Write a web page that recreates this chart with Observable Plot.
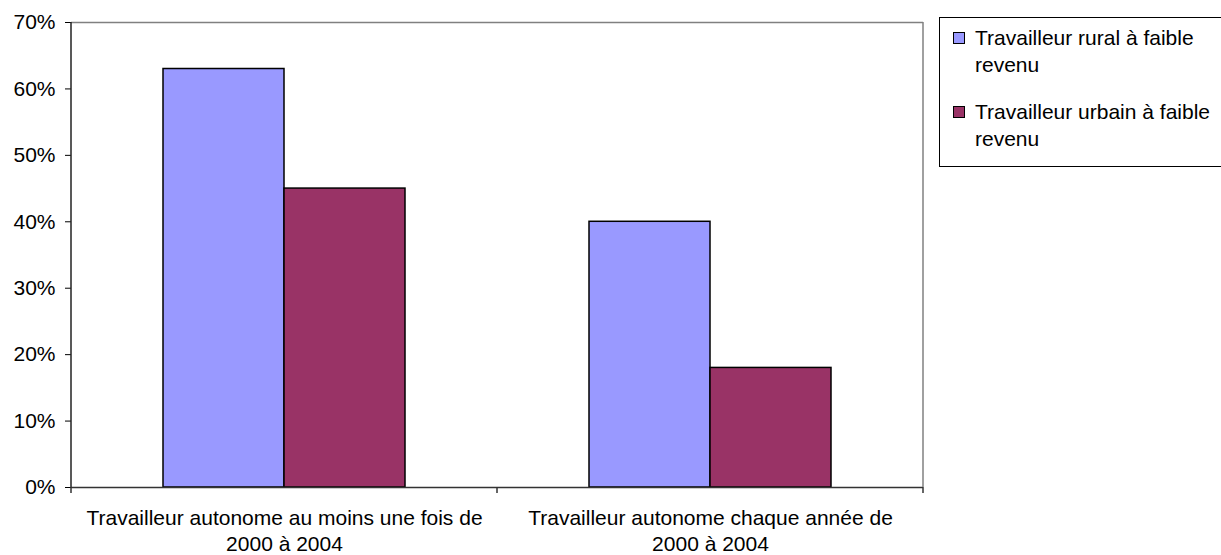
<!DOCTYPE html>
<html><head><meta charset="utf-8">
<script src="https://cdn.jsdelivr.net/npm/d3@7"></script>
<script src="https://cdn.jsdelivr.net/npm/@observablehq/plot@0.6"></script>
<style>
body{margin:0;background:#fff;font-family:"Liberation Sans",Arial,sans-serif}
#wrap{position:relative;width:1221px;height:555px;overflow:hidden}
#legend{position:absolute;left:939px;top:17px;width:300px;height:150px;border:1px solid #000;box-sizing:border-box;background:#fff}
.item{position:absolute;left:35px;font-size:21px;line-height:27px;color:#000;white-space:nowrap}
.sw{position:absolute;left:-22px;top:8px;width:10px;height:10px;border:1px solid #000}
</style></head><body><div id="wrap"><div id="chart"></div><div id="legend"></div></div>
<script>
const categories = ["Travailleur autonome au moins une fois de 2000 à 2004", "Travailleur autonome chaque année de 2000 à 2004"];
const categoryLines = [["Travailleur autonome au moins une fois de", "2000 à 2004"], ["Travailleur autonome chaque année de", "2000 à 2004"]];
const series = ["Travailleur rural à faible revenu", "Travailleur urbain à faible revenu"];
const legendLines = [["Travailleur rural à faible", "revenu"], ["Travailleur urbain à faible", "revenu"]];
const rural = [0.63, 0.40];
const urban = [0.45, 0.18];
const colors = ["#9999FF", "#993366"];
const yTicks = [0, 0.1, 0.2, 0.3, 0.4, 0.5, 0.6, 0.7];

const data = categories.flatMap((c, i) => [
  {category: c, series: series[0], value: rural[i]},
  {category: c, series: series[1], value: urban[i]}
]);

const chart = Plot.plot({
  width: 1221, height: 555,
  marginLeft: 71, marginRight: 298, marginTop: 22, marginBottom: 68,
  style: {fontFamily: "'Liberation Sans', Arial, sans-serif", fontSize: "21px", background: "white", color: "black"},
  fx: {domain: categories, padding: 0},
  x: {domain: series, paddingInner: 0, paddingOuter: 0.75, axis: null},
  y: {domain: [0, 0.7]},
  color: {domain: series, range: colors},
  marks: [
    Plot.ruleY([0.7], {stroke: "#808080", strokeWidth: 1.5}),
    Plot.barY(data, {fx: "category", x: "series", y: "value", fill: "series", stroke: "#000", strokeWidth: 1.5}),
    Plot.ruleY([0], {stroke: "#333", strokeWidth: 1.5}),
    Plot.axisY({ticks: yTicks, tickFormat: d3.format(".0%"), tickSize: 6, tickPadding: 10, label: null}),
    Plot.axisFx({anchor: "bottom", tickSize: 0, tickPadding: 19, lineHeight: 1.24, label: null,
      tickFormat: d => categoryLines[categories.indexOf(d)].join("\n")})
  ]
});
document.getElementById("chart").appendChild(chart);

// frame lines and category boundary ticks, positioned through the plot's scales
const fx = chart.scale("fx"), y = chart.scale("y");
const y0 = y.apply(0), yTop = y.apply(0.7);
const edges = categories.map(c => fx.apply(c)).concat([fx.apply(categories[categories.length - 1]) + fx.bandwidth]);
const svg = d3.select(chart);
const g = svg.append("g");
g.append("line").attr("x1", edges[0]).attr("x2", edges[0]).attr("y1", yTop).attr("y2", y0).attr("stroke", "#222").attr("stroke-width", 1.5);
g.append("line").attr("x1", edges[edges.length - 1]).attr("x2", edges[edges.length - 1]).attr("y1", yTop).attr("y2", y0).attr("stroke", "#808080").attr("stroke-width", 1.5);
edges.forEach(x => g.append("line").attr("x1", x).attr("x2", x).attr("y1", y0).attr("y2", y0 + 6).attr("stroke", "#333").attr("stroke-width", 1.5));

// legend
const legend = document.getElementById("legend");
series.forEach((s, i) => {
  const item = document.createElement("div");
  item.className = "item";
  item.style.top = (6 + i * 74) + "px";
  item.innerHTML = `<span class="sw" style="background:${colors[i]}"></span>` + legendLines[i].join("<br>");
  legend.appendChild(item);
});
</script></body></html>
